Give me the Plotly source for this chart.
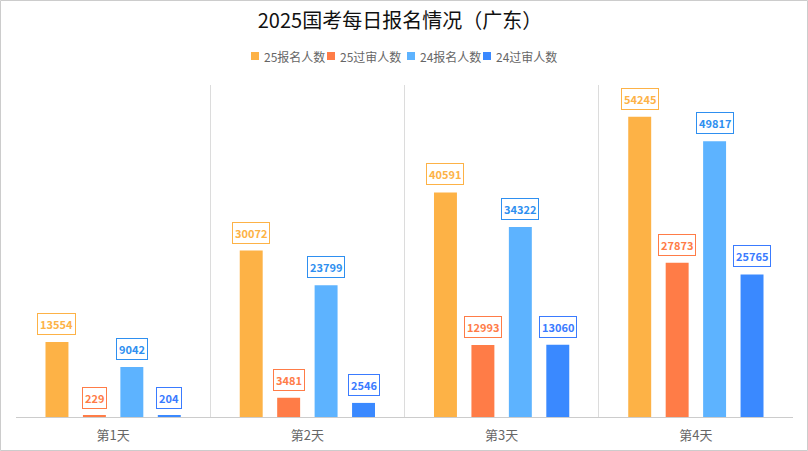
import plotly.graph_objects as go

days = ["第1天", "第2天", "第3天", "第4天"]
series_names = ["25报名人数", "25过审人数", "24报名人数", "24过审人数"]
reg25 = [13554, 30072, 40591, 54245]
pass25 = [229, 3481, 12993, 27873]
reg24 = [9042, 23799, 34322, 49817]
pass24 = [204, 2546, 13060, 25765]

bar_colors = ["#FDB246", "#FF7C47", "#5DB3FF", "#3A89FF"]
label_colors = ["#FDB246", "#FF7C47", "#2E8FF0", "#3A7BFF"]
FONT = "Noto Sans CJK SC, Noto Sans, sans-serif"

all_series = [reg25, pass25, reg24, pass24]
offsets = [-0.289, -0.096, 0.096, 0.289]

# plot area geometry in pixels (for converting legend placement to paper coords)
L, R, T, B = 16, 15, 85, 34
PW, PH = 808 - L - R, 451 - T - B

def px(xp):
    return (xp - L) / PW

def py(yp):
    return (451 - B - yp) / PH

fig = go.Figure()
for name, vals, col in zip(series_names, all_series, bar_colors):
    fig.add_trace(go.Bar(name=name, x=days, y=vals, showlegend=False,
                         marker=dict(color=col, line=dict(width=0))))

annotations = []
for vals, off, lc in zip(all_series, offsets, label_colors):
    for i, v in enumerate(vals):
        annotations.append(dict(
            x=i + off, y=v, xref="x", yref="y", text="<b>%d</b>" % v,
            showarrow=False, yanchor="bottom", yshift=7,
            font=dict(family=FONT, size=11, color=lc),
            bgcolor="white", bordercolor=lc, borderwidth=1, borderpad=2,
        ))

shapes = [dict(type="rect", xref="paper", yref="paper",
               x0=px(0.5), x1=px(807.5), y0=py(450.5), y1=py(0.5),
               line=dict(color="#cccccc", width=1), fillcolor="rgba(0,0,0,0)", layer="below")]

# manual legend
legend_x = [251, 327, 407, 483]
for name, col, lx in zip(series_names, bar_colors, legend_x):
    shapes.append(dict(type="rect", xref="paper", yref="paper",
                       x0=px(lx), x1=px(lx + 8), y0=py(60), y1=py(52),
                       line=dict(width=0), fillcolor=col))
    annotations.append(dict(x=px(lx + 11), y=py(56), xref="paper", yref="paper",
                            text=name, showarrow=False, xanchor="left", yanchor="middle",
                            font=dict(family=FONT, size=12, color="#666")))

fig.update_layout(
    width=808, height=451,
    margin=dict(l=L, r=R, t=T, b=B, autoexpand=False),
    paper_bgcolor="white", plot_bgcolor="white",
    font=dict(family=FONT),
    showlegend=False,
    title=dict(text="2025国考每日报名情况（广东）", x=0.495, xanchor="center", y=0.953, yanchor="middle",
               font=dict(family=FONT, size=20, color="#111")),
    barmode="group", bargap=0.229, bargroupgap=0.387,
    annotations=annotations,
    shapes=shapes,
    xaxis=dict(type="category", tickson="boundaries", showgrid=True, gridcolor="#dcdcdc", gridwidth=1,
               showline=True, linecolor="#cccccc", ticks="", ticklabelstandoff=6, automargin=False,
               tickfont=dict(family=FONT, size=13, color="#666"),
               range=[-0.5, 3.5]),
    yaxis=dict(range=[0, 60000], showgrid=False, showticklabels=False, zeroline=False, showline=False,
               automargin=False),
)

fig.write_html("out.html")
